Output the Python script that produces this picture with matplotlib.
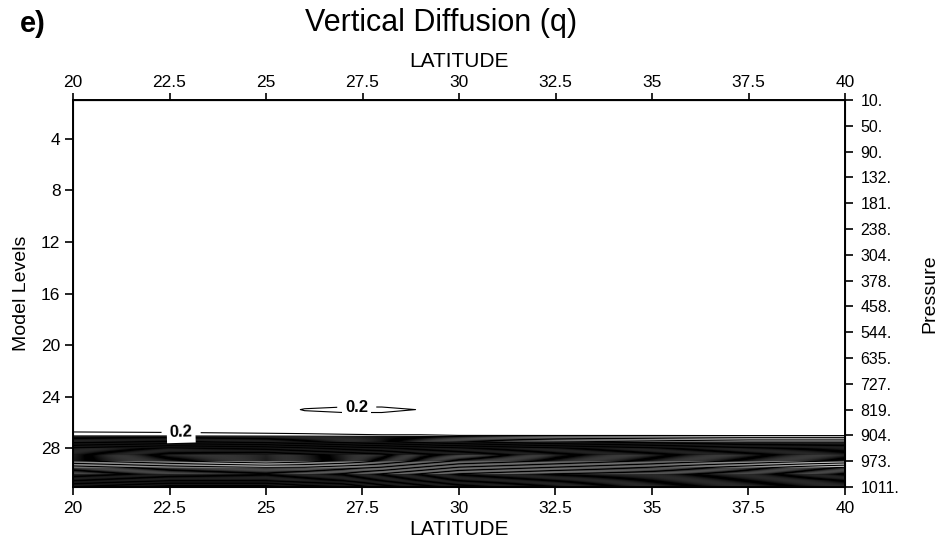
import numpy as np
import matplotlib
matplotlib.use("Agg")
import matplotlib.pyplot as plt

plt.rcParams['font.family'] = ['Liberation Sans', 'DejaVu Sans']

# ---------------- data ----------------
lat = [20, 22.5, 25, 26, 27, 28, 29, 30, 32.5, 35, 37.5, 40]
level = [22, 23, 24, 25, 26, 26.5, 27, 27.5, 28, 28.5, 29, 29.5, 30, 30.5, 31]

q_l22 = [0.02, 0.02, 0.02, 0.02, 0.02, 0.02, 0.02, 0.02, 0.02, 0.02, 0.02, 0.02]
q_l23 = [0.03, 0.03, 0.03, 0.03, 0.03, 0.03, 0.03, 0.03, 0.03, 0.03, 0.03, 0.03]
q_l24 = [0.04, 0.04, 0.05, 0.06, 0.06, 0.06, 0.06, 0.05, 0.05, 0.04, 0.04, 0.04]
q_l25 = [0.08, 0.09, 0.12, 0.21, 0.235, 0.235, 0.195, 0.10, 0.08, 0.07, 0.07, 0.07]
q_l26 = [0.10, 0.10, 0.10, 0.09, 0.08, 0.08, 0.08, 0.08, 0.08, 0.08, 0.08, 0.08]
q_l26h = [0.13, 0.13, 0.12, 0.12, 0.11, 0.11, 0.11, 0.11, 0.10, 0.10, 0.10, 0.10]
q_l27 = [0.28, 0.26, 0.24, 0.23, 0.22, 0.21, 0.21, 0.20, 0.19, 0.19, 0.18, 0.18]
q_l27h = [1.8, 1.9, 1.8, 1.7, 1.6, 1.5, 1.4, 1.3, 1.1, 1.0, 0.9, 0.9]
q_l28 = [3.6, 3.8, 3.7, 3.6, 3.5, 3.4, 3.3, 3.2, 3.0, 2.8, 2.6, 2.5]
q_l28h = [5.0, 5.3, 5.4, 5.3, 5.2, 5.1, 4.9, 4.8, 4.5, 4.3, 4.1, 3.9]
q_l29 = [6.3, 6.5, 6.7, 6.6, 6.5, 6.3, 6.1, 5.9, 5.7, 5.5, 5.3, 5.1]
q_l29h = [7.1, 7.3, 7.4, 7.4, 7.3, 7.2, 7.0, 6.8, 6.6, 6.4, 6.1, 5.8]
q_l30 = [8.2, 8.4, 8.5, 8.4, 8.3, 8.1, 7.9, 7.7, 7.5, 7.4, 7.2, 6.9]
q_l30h = [9.8, 10.0, 10.0, 9.9, 9.8, 9.6, 9.4, 9.2, 9.0, 8.8, 8.6, 8.4]
q_l31 = [11.5, 11.8, 11.8, 11.6, 11.5, 11.2, 11.0, 10.8, 10.5, 10.2, 10.0, 9.8]

contour_interval = 0.2
contour_max = 12.0

lat_ticks = [20, 22.5, 25, 27.5, 30, 32.5, 35, 37.5, 40]
lat_labels = ['20', '22.5', '25', '27.5', '30', '32.5', '35', '37.5', '40']
level_ticks = [4, 8, 12, 16, 20, 24, 28]
pressure_levels = [1, 3, 5, 7, 9, 11, 13, 15, 17, 19, 21, 23, 25, 27, 29, 31]
pressure_labels = ['10.', '50.', '90.', '132.', '181.', '238.', '304.', '378.',
                   '458.', '544.', '635.', '727.', '819.', '904.', '973.', '1011.']

label_positions = [(22.8, 26.8), (27.35, 24.95)]

# ---------------- plot ----------------
q = np.array([q_l22, q_l23, q_l24, q_l25, q_l26, q_l26h, q_l27, q_l27h, q_l28,
              q_l28h, q_l29, q_l29h, q_l30, q_l30h, q_l31])
clev = np.arange(contour_interval, contour_max + 1e-6, contour_interval)

fig = plt.figure(figsize=(9.45, 5.42), dpi=100)
ax = fig.add_axes([73 / 945, 55 / 542, 772 / 945, 387 / 542])

cs = ax.contour(lat, level, q, levels=clev, colors='black', linewidths=0.8)
labels = ax.clabel(cs, levels=[0.2], manual=label_positions, fmt='%.1f',
                   fontsize=12, inline=True, inline_spacing=8)
for t in labels:
    t.set_fontweight('bold')
    t.set_bbox(dict(facecolor='white', edgecolor='none', pad=2))
    t.set_zorder(5)

ax.set_xlim(20, 40)
ax.set_ylim(31, 1)

for s in ax.spines.values():
    s.set_linewidth(1.4)

ax.set_xticks(lat_ticks)
ax.set_xticklabels(lat_labels, fontsize=12.5)
ax.set_yticks(level_ticks)
ax.set_yticklabels([str(v) for v in level_ticks], fontsize=12.5)
ax.tick_params(axis='x', direction='out', length=6, width=1.2, pad=4)
ax.tick_params(axis='y', direction='out', length=6, width=1.2, pad=3)
ax.set_xlabel('LATITUDE', fontsize=15, labelpad=3)
ax.set_ylabel('Model Levels', fontsize=14, labelpad=8)

top = ax.secondary_xaxis('top')
top.set_xticks(lat_ticks)
top.set_xticklabels(lat_labels, fontsize=12.5)
top.tick_params(direction='out', length=5, width=1.2, pad=2)
top.set_xlabel('LATITUDE', fontsize=15, labelpad=6)

right = ax.twinx()
right.set_ylim(31, 1)
right.set_yticks(pressure_levels)
right.set_yticklabels(pressure_labels, fontsize=11.5)
right.tick_params(direction='out', length=6, width=1.2, pad=5)
right.set_ylabel('Pressure', fontsize=14, labelpad=16)

fig.text(441 / 945, 1 - 23 / 542, 'Vertical Diffusion (q)', fontsize=22,
         ha='center', va='center')
fig.text(20 / 945, 1 - 24 / 542, 'e)', fontsize=21, fontweight='bold',
         ha='left', va='center')

fig.savefig('out.png', dpi=100)
